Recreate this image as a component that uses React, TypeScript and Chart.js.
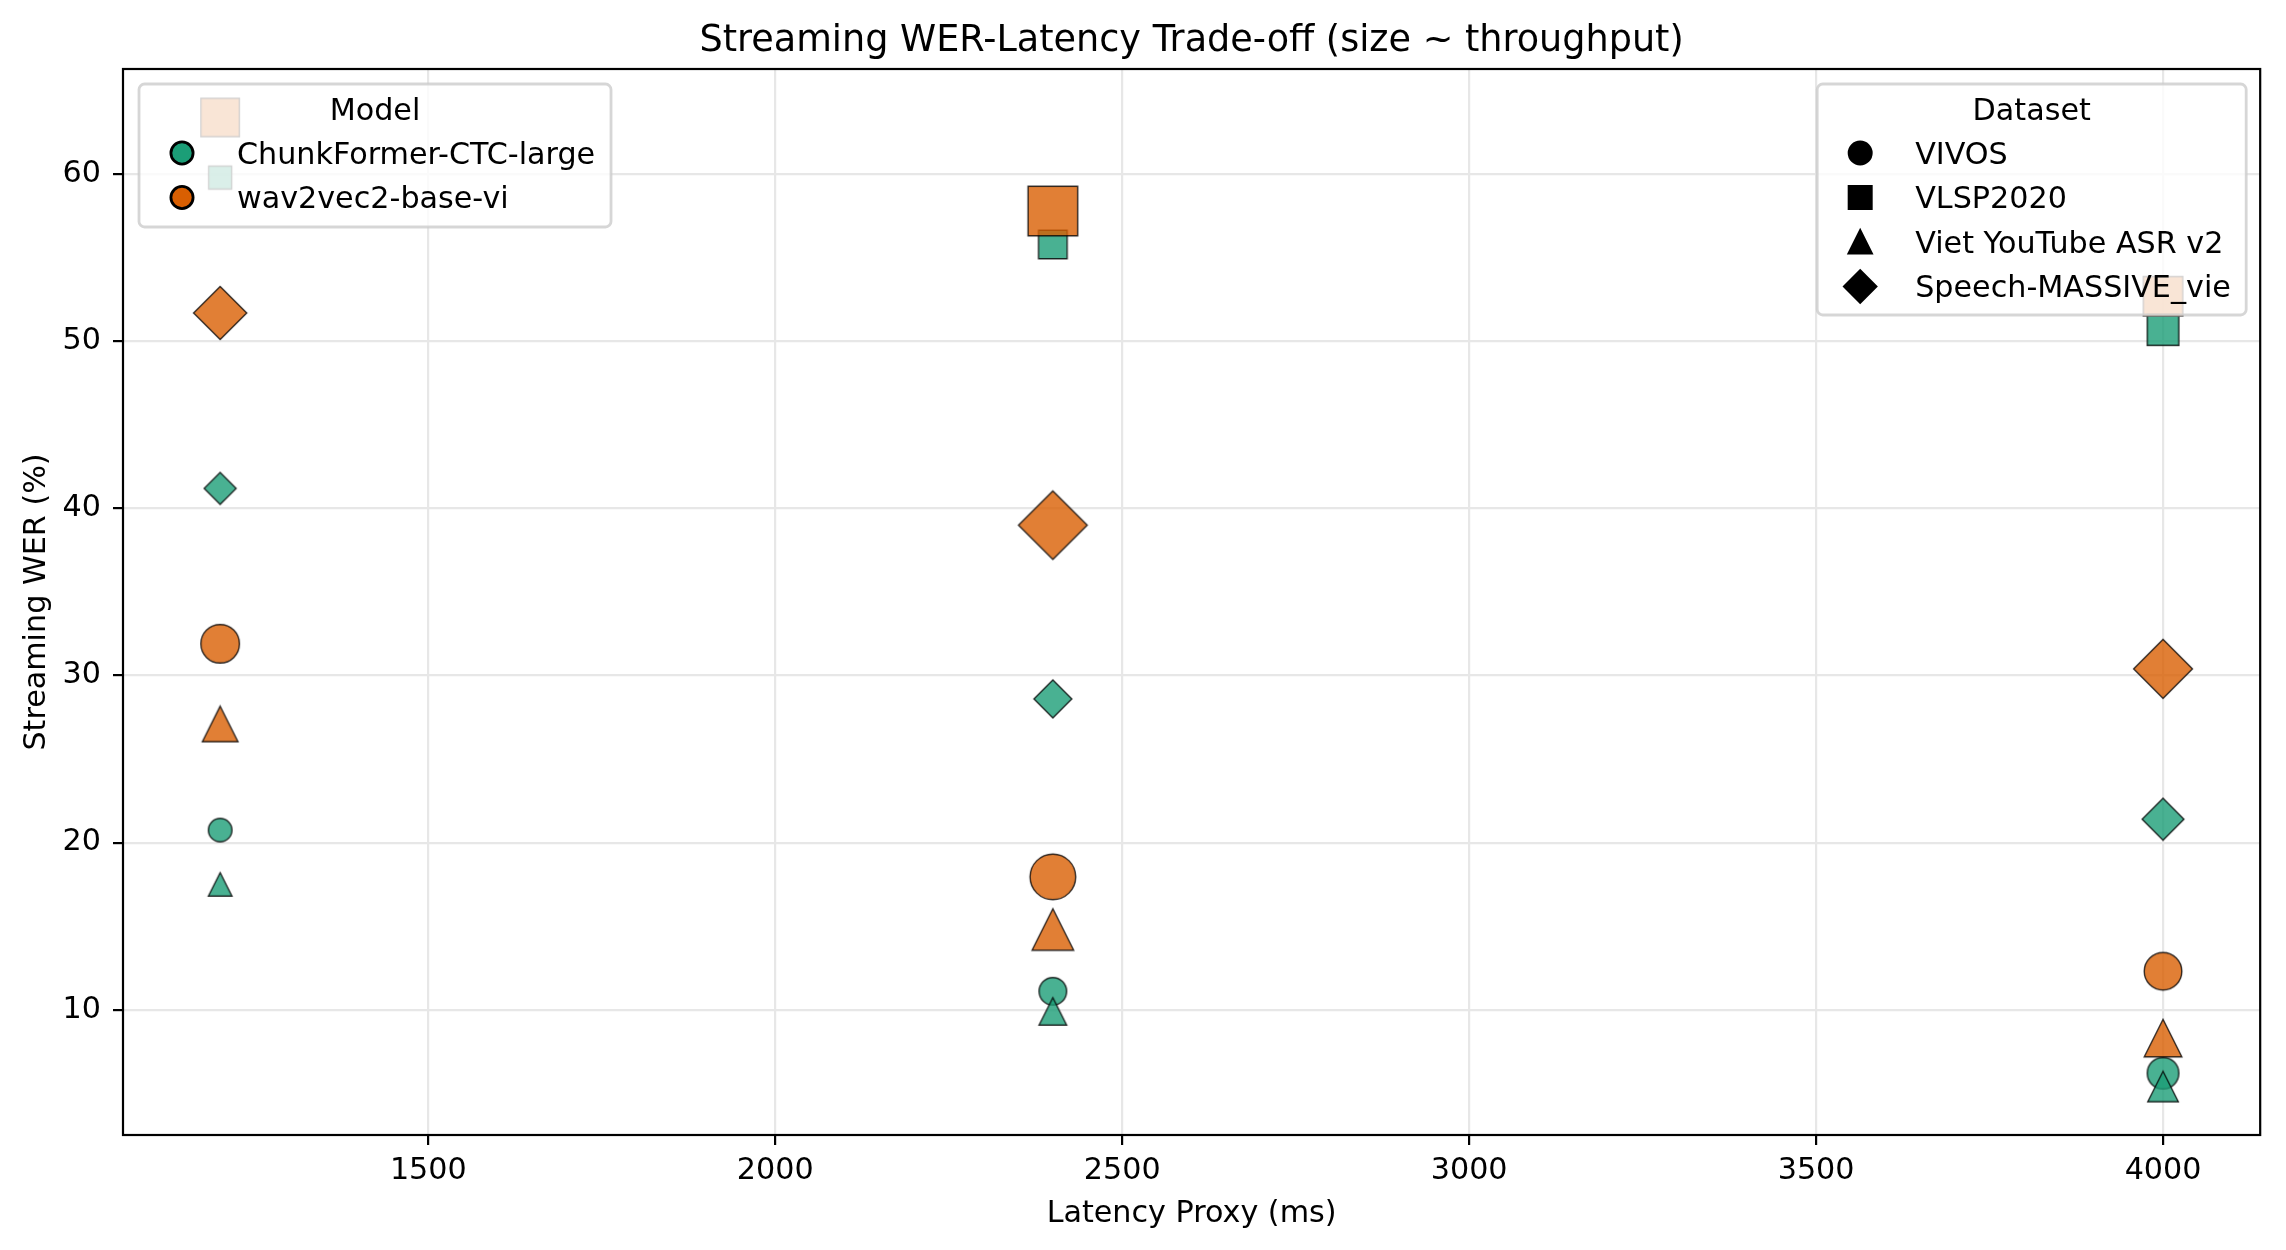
import { useEffect, useRef } from 'react';
import { Chart, registerables } from 'chart.js';

Chart.register(...registerables);

const FONT = '"DejaVu Sans", sans-serif';
const TITLE = 'Streaming WER-Latency Trade-off (size ~ throughput)';
const X_LABEL = 'Latency Proxy (ms)';
const Y_LABEL = 'Streaming WER (%)';

const latencyMs = [1200, 2400, 4000];
const modelNames = ['ChunkFormer-CTC-large', 'wav2vec2-base-vi'];
const datasetNames = ['VIVOS', 'VLSP2020', 'Viet YouTube ASR v2', 'Speech-MASSIVE_vie'];

// streaming WER (%), rows follow datasetNames, one value per latency
const chunkFormerWer = [
  [20.75, 11.1, 6.2],
  [59.8, 55.8, 50.7],
  [17.5, 9.9, 5.4],
  [41.2, 28.6, 21.4],
];
const wav2vecWer = [
  [31.9, 17.95, 12.3],
  [63.4, 57.8, 52.7],
  [27.1, 14.8, 8.3],
  [51.7, 39.0, 30.4],
];

// throughput, drives the marker area
const chunkFormerThroughput = [
  [89, 122, 160],
  [85, 131, 160],
  [89, 122, 150],
  [82, 115, 140],
];
const wav2vecThroughput = [
  [238, 333, 226],
  [238, 394, 251],
  [203, 277, 226],
  [226, 378, 277],
];

const xTicks = [1500, 2000, 2500, 3000, 3500, 4000];
const yTicks = [10, 20, 30, 40, 50, 60];

const modelColors = ['27, 158, 119', '217, 95, 2'];
const markerShapes = ['circle', 'square', 'triangle', 'diamond'];
const markerPx = (t: number) => 2.5 * Math.sqrt(t);

const TEXT_PX = 30.2;
const TITLE_PX = 36.6;

function tracePath(ctx: CanvasRenderingContext2D, shape: string, cx: number, cy: number, d: number) {
  const h = d / 2;
  ctx.beginPath();
  if (shape === 'circle') {
    ctx.arc(cx, cy, h, 0, Math.PI * 2);
  } else if (shape === 'square') {
    ctx.rect(cx - h, cy - h, d, d);
  } else if (shape === 'triangle') {
    ctx.moveTo(cx, cy - h);
    ctx.lineTo(cx + h, cy + h);
    ctx.lineTo(cx - h, cy + h);
    ctx.closePath();
  } else {
    const r = d / Math.SQRT2;
    ctx.moveTo(cx, cy - r);
    ctx.lineTo(cx + r, cy);
    ctx.lineTo(cx, cy + r);
    ctx.lineTo(cx - r, cy);
    ctx.closePath();
  }
}

function markerImage(shape: string, d: number, fill: string, edge: string, lw: number) {
  const size = Math.ceil(d * 1.5 + lw + 4);
  const c = document.createElement('canvas');
  c.width = size;
  c.height = size;
  const ctx = c.getContext('2d')!;
  tracePath(ctx, shape, size / 2, size / 2, d);
  ctx.fillStyle = fill;
  ctx.fill();
  ctx.lineWidth = lw;
  ctx.strokeStyle = edge;
  ctx.stroke();
  return c;
}

// matplotlib-like 5% margins around the data
function padded(values: number[]) {
  const lo = Math.min(...values);
  const hi = Math.max(...values);
  const m = (hi - lo) * 0.05;
  return [lo - m, hi + m];
}

interface LegendEntry { name: string; shape: string; fill: string }

function legendBox(
  ctx: CanvasRenderingContext2D, x: number, y: number, w: number, h: number,
  title: string, entries: LegendEntry[],
) {
  ctx.beginPath();
  ctx.roundRect(x, y, w, h, 5.6);
  ctx.fillStyle = 'rgba(255,255,255,0.8)';
  ctx.fill();
  ctx.lineWidth = 2.8;
  ctx.strokeStyle = 'rgba(204,204,204,0.8)';
  ctx.stroke();

  ctx.font = `${TEXT_PX}px ${FONT}`;
  ctx.fillStyle = '#000';
  ctx.textAlign = 'center';
  ctx.textBaseline = 'alphabetic';
  ctx.fillText(title, x + w / 2, y + 36);

  ctx.textAlign = 'left';
  entries.forEach((e, i) => {
    const my = y + 69 + i * 44.5;
    tracePath(ctx, e.shape, x + 43, my, 22.2);
    ctx.fillStyle = e.fill;
    ctx.fill();
    ctx.lineWidth = 2.8;
    ctx.strokeStyle = '#000';
    ctx.stroke();
    ctx.fillStyle = '#000';
    ctx.fillText(e.name, x + 98, my + 10.5);
  });
}

const decorPlugin = {
  id: 'decor',
  afterDatasetsDraw(chart: Chart) {
    const { ctx, chartArea: a } = chart;
    ctx.save();
    ctx.strokeStyle = '#000';
    ctx.lineWidth = 2.2;
    ctx.strokeRect(a.left, a.top, a.right - a.left, a.bottom - a.top);

    ctx.fillStyle = '#000';
    ctx.textAlign = 'center';
    ctx.textBaseline = 'alphabetic';
    ctx.font = `${TITLE_PX}px ${FONT}`;
    ctx.fillText(TITLE, (a.left + a.right) / 2, a.top - 18);
    ctx.font = `${TEXT_PX}px ${FONT}`;
    ctx.fillText(X_LABEL, (a.left + a.right) / 2, a.bottom + 87);
    ctx.save();
    ctx.translate(45, (a.top + a.bottom) / 2);
    ctx.rotate(-Math.PI / 2);
    ctx.fillText(Y_LABEL, 0, 0);
    ctx.restore();

    legendBox(ctx, a.left + 16, a.top + 15, 472, 143, 'Model',
      modelNames.map((name, i) => ({ name, shape: 'circle', fill: `rgb(${modelColors[i]})` })));
    legendBox(ctx, a.right - 14 - 429, a.top + 15, 429, 231, 'Dataset',
      datasetNames.map((name, i) => ({ name, shape: markerShapes[i], fill: '#000' })));
    ctx.restore();
  },
};

export default function App() {
  const canvasRef = useRef<HTMLCanvasElement>(null);
  const chartRef = useRef<Chart | null>(null);

  useEffect(() => {
    document.body.style.margin = '0';
    document.body.style.overflow = 'hidden';
    if (!canvasRef.current) return;
    if (chartRef.current) chartRef.current.destroy();

    const series = [
      { wer: chunkFormerWer, tp: chunkFormerThroughput },
      { wer: wav2vecWer, tp: wav2vecThroughput },
    ];
    const chartDatasets = series.flatMap((s, m) =>
      datasetNames.map((ds, k) => ({
        label: `${modelNames[m]} / ${ds}`,
        data: latencyMs.map((x, i) => ({ x, y: s.wer[k][i] })),
        pointStyle: s.tp[k].map((t) =>
          markerImage(markerShapes[k], markerPx(t), `rgba(${modelColors[m]}, 0.8)`, 'rgba(0,0,0,0.8)', 1.4)),
        pointRadius: s.tp[k].map((t) => markerPx(t) / 2),
        order: 100 - (m * 4 + k),
        showLine: false,
      })));

    const [xMin, xMax] = padded(latencyMs);
    const [yMin, yMax] = padded([...chunkFormerWer.flat(), ...wav2vecWer.flat()]);
    const tickFont = { family: FONT, size: TEXT_PX };
    const grid = { color: '#e7e7e7', lineWidth: 2.2, tickColor: '#000', tickWidth: 2.2, tickLength: 10 };

    chartRef.current = new Chart(canvasRef.current, {
      type: 'scatter',
      data: { datasets: chartDatasets as any },
      options: {
        animation: false,
        responsive: false,
        events: [],
        layout: { padding: { top: 69, right: 23, left: 0, bottom: 0 } },
        plugins: { legend: { display: false }, tooltip: { enabled: false } },
        scales: {
          x: {
            type: 'linear',
            min: xMin,
            max: xMax,
            afterFit: (s: any) => { s.height = 115; },
            afterBuildTicks: (s: any) => { s.ticks = xTicks.map((value) => ({ value })); },
            grid,
            border: { display: false },
            ticks: { color: '#000', font: tickFont, padding: 8, maxRotation: 0, autoSkip: false, callback: (v: any) => String(v) },
          },
          y: {
            type: 'linear',
            min: yMin,
            max: yMax,
            afterFit: (s: any) => { s.width = 123; },
            afterBuildTicks: (s: any) => { s.ticks = yTicks.map((value) => ({ value })); },
            grid,
            border: { display: false },
            ticks: { color: '#000', font: tickFont, padding: 12, autoSkip: false, callback: (v: any) => String(v) },
          },
        },
      },
      plugins: [decorPlugin],
    });

    return () => chartRef.current?.destroy();
  }, []);

  return (
    <div style={{ width: 2286, height: 1250, background: '#fff' }}>
      <canvas ref={canvasRef} width={2286} height={1250} style={{ display: 'block' }} />
    </div>
  );
}
